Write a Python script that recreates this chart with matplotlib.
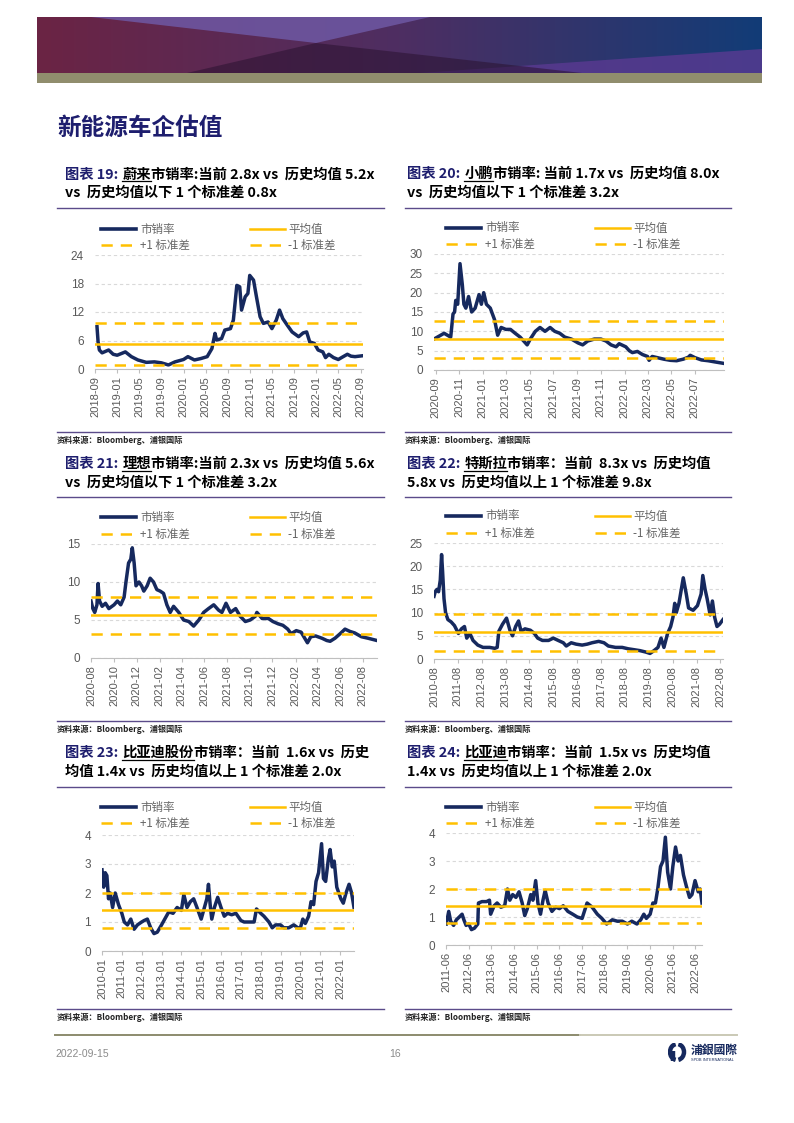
import numpy as np
import pandas as pd
import matplotlib
matplotlib.use("Agg")
import matplotlib.pyplot as plt
import matplotlib.patches as mpatches
from matplotlib.lines import Line2D
from matplotlib.colors import LinearSegmentedColormap

W, H = 794, 1123
NAVY = '#16295E'
GOLD = '#FFC000'
INK = '#1E1E6E'
GREY = '#595959'
CJK = ['Noto Sans CJK SC', 'DejaVu Sans']
LAT = ['Liberation Sans', 'DejaVu Sans']
DASH = (0, (4.5, 3.2))

plt.rcParams['font.family'] = CJK

# ---------------- data ----------------
NIO_DATES = ['2018-09-12', '2018-09-18', '2018-09-25', '2018-10-10', '2018-11-15', '2018-12-10', '2019-01-01',
             '2019-02-15', '2019-03-20', '2019-04-25', '2019-06-10', '2019-07-25', '2019-09-01', '2019-10-10',
             '2019-11-15', '2020-01-01', '2020-01-25', '2020-03-01', '2020-04-05', '2020-05-10', '2020-06-05',
             '2020-06-22', '2020-07-01', '2020-07-28', '2020-08-15', '2020-09-15', '2020-10-01', '2020-10-20',
             '2020-11-05', '2020-11-15', '2020-12-05', '2020-12-20', '2020-12-30', '2021-01-20', '2021-02-05',
             '2021-02-25', '2021-03-15', '2021-04-10', '2021-05-01', '2021-05-25', '2021-06-12', '2021-06-30',
             '2021-07-25', '2021-08-20', '2021-09-25', '2021-10-20', '2021-11-08', '2021-11-25', '2021-12-20',
             '2022-01-10', '2022-02-05', '2022-02-20', '2022-03-10', '2022-04-05', '2022-05-01', '2022-05-28',
             '2022-06-20', '2022-07-10', '2022-08-01', '2022-09-14']
NIO_PS = [8.9, 5.7, 4.0, 3.4, 4.0, 3.1, 2.9,
          3.6, 2.6, 1.9, 1.4, 1.5, 1.3, 0.85,
          1.5, 2.0, 2.6, 1.9, 2.2, 2.6, 4.3,
          7.5, 6.1, 6.4, 8.2, 8.5, 10.3, 17.6,
          17.3, 12.4, 15.2, 15.9, 19.7, 18.7, 15.2,
          11.0, 9.6, 9.9, 8.5, 10.3, 12.4, 10.6,
          9.2, 7.8, 6.8, 7.6, 7.8, 5.7, 5.4,
          4.0, 3.6, 2.4, 3.1, 2.4, 2.0, 2.6,
          3.1, 2.7, 2.6, 2.8]
NIO_STATS = (5.2, 9.6, 0.8)
NIO_TICKS = ['2018-09', '2019-01', '2019-05', '2019-09', '2020-01', '2020-05', '2020-09',
             '2021-01', '2021-05', '2021-09', '2022-01', '2022-05', '2022-09']

XP_DATES = ['2020-08-28', '2020-09-23', '2020-10-10', '2020-10-16', '2020-10-20', '2020-10-23', '2020-10-28',
            '2020-11-03', '2020-11-09', '2020-11-13', '2020-11-18', '2020-11-25', '2020-12-03', '2020-12-12',
            '2020-12-22', '2020-12-28', '2021-01-03', '2021-01-10', '2021-01-20', '2021-01-31', '2021-02-08',
            '2021-02-17', '2021-03-01', '2021-03-13', '2021-03-25', '2021-04-07', '2021-04-25', '2021-05-03',
            '2021-05-16', '2021-05-28', '2021-06-10', '2021-06-23', '2021-07-05', '2021-07-18', '2021-07-31',
            '2021-08-17', '2021-09-03', '2021-09-15', '2021-09-28', '2021-10-15', '2021-11-01', '2021-11-14',
            '2021-11-27', '2021-12-10', '2021-12-18', '2022-01-04', '2022-01-13', '2022-01-21', '2022-02-03',
            '2022-02-16', '2022-03-01', '2022-03-05', '2022-03-13', '2022-03-26', '2022-04-12', '2022-04-29',
            '2022-05-15', '2022-06-01', '2022-06-14', '2022-06-19', '2022-07-01', '2022-07-18', '2022-08-04',
            '2022-08-21', '2022-09-14']
XP_PS = [8.0, 9.5, 8.5, 14.5, 15.0, 18.0, 17.0,
         27.5, 22.0, 17.0, 16.0, 19.0, 15.0, 16.0,
         19.5, 17.0, 20.0, 17.0, 16.0, 13.0, 9.0,
         11.0, 10.5, 10.5, 9.5, 8.5, 6.5, 8.0,
         10.0, 11.0, 10.0, 11.0, 10.0, 9.5, 8.5,
         8.0, 7.0, 6.5, 7.5, 8.0, 8.0, 7.5,
         6.5, 6.0, 6.8, 6.0, 5.0, 4.5, 4.8,
         4.0, 3.5, 2.5, 3.5, 3.2, 2.8, 2.5,
         2.4, 2.8, 3.3, 3.8, 3.2, 2.6, 2.4,
         2.1, 1.7]
XP_STATS = (8.0, 12.8, 3.2)
XP_TICKS = ['2020-09', '2020-11', '2021-01', '2021-03', '2021-05', '2021-07',
            '2021-09', '2021-11', '2022-01', '2022-03', '2022-05', '2022-07']

LI_DATES = ['2020-07-31', '2020-08-05', '2020-08-10', '2020-08-16', '2020-08-19', '2020-08-23', '2020-08-30',
            '2020-09-08', '2020-09-17', '2020-10-01', '2020-10-10', '2020-10-19', '2020-10-28', '2020-11-02',
            '2020-11-09', '2020-11-15', '2020-11-19', '2020-11-24', '2020-11-29', '2020-12-07', '2020-12-14',
            '2020-12-20', '2020-12-29', '2021-01-06', '2021-01-15', '2021-01-24', '2021-02-02', '2021-02-11',
            '2021-02-20', '2021-03-01', '2021-03-10', '2021-03-24', '2021-04-06', '2021-04-20', '2021-05-03',
            '2021-05-17', '2021-05-30', '2021-06-12', '2021-06-26', '2021-07-09', '2021-07-18', '2021-07-29',
            '2021-08-10', '2021-08-24', '2021-09-05', '2021-09-19', '2021-10-02', '2021-10-16', '2021-10-20',
            '2021-11-03', '2021-11-20', '2021-12-02', '2021-12-16', '2021-12-29', '2022-01-11', '2022-01-20',
            '2022-02-03', '2022-02-16', '2022-03-05', '2022-03-14', '2022-03-27', '2022-04-13', '2022-04-26',
            '2022-05-05', '2022-05-18', '2022-06-01', '2022-06-14', '2022-06-27', '2022-07-10', '2022-07-28',
            '2022-08-15', '2022-09-08']
LI_PS = [7.5, 6.5, 6.0, 7.0, 9.8, 7.5, 6.8,
         7.2, 6.5, 7.0, 7.5, 7.0, 8.0, 10.0,
         12.5, 13.0, 14.5, 12.5, 9.5, 10.0, 9.5,
         8.8, 9.5, 10.5, 10.0, 9.0, 8.8, 8.5,
         7.0, 6.0, 6.8, 6.0, 5.0, 4.8, 4.2,
         5.0, 6.0, 6.5, 7.0, 6.3, 6.0, 7.2,
         6.0, 6.5, 5.5, 4.8, 5.0, 5.5, 6.0,
         5.2, 5.2, 4.8, 4.5, 4.3, 3.8, 3.2,
         3.6, 3.4, 2.0, 2.8, 2.9, 2.6, 2.3,
         2.2, 2.6, 3.2, 3.8, 3.5, 3.3, 2.8,
         2.6, 2.3]
LI_STATS = (5.6, 8.0, 3.2)
LI_TICKS = ['2020-08', '2020-10', '2020-12', '2021-02', '2021-04', '2021-06', '2021-08',
            '2021-10', '2021-12', '2022-02', '2022-04', '2022-06', '2022-08']

TSLA_DATES = ['2010-08-01', '2010-08-20', '2010-09-15', '2010-10-10', '2010-11-05', '2010-11-25', '2010-12-10',
              '2011-01-01', '2011-01-25', '2011-03-01', '2011-04-20', '2011-06-10', '2011-08-10', '2011-09-25',
              '2011-11-10', '2011-12-15', '2012-02-01', '2012-03-20', '2012-06-01', '2012-08-20', '2012-12-01',
              '2013-02-15', '2013-03-25', '2013-04-20', '2013-06-15', '2013-08-15', '2013-10-10', '2013-11-15',
              '2014-01-01', '2014-02-15', '2014-03-25', '2014-05-25', '2014-08-15', '2014-10-15', '2014-12-05',
              '2015-02-15', '2015-05-20', '2015-08-01', '2015-10-15', '2016-01-01', '2016-02-15', '2016-05-01',
              '2016-07-15', '2016-10-15', '2017-01-01', '2017-03-15', '2017-06-25', '2017-09-15', '2017-11-20',
              '2018-03-10', '2018-06-20', '2018-09-20', '2018-12-20', '2019-03-20', '2019-06-15', '2019-08-20',
              '2019-10-20', '2019-12-20', '2020-02-05', '2020-03-20', '2020-05-15', '2020-07-01', '2020-08-05',
              '2020-09-01', '2020-09-25', '2020-11-05', '2021-01-10', '2021-02-25', '2021-04-01', '2021-06-10',
              '2021-08-15', '2021-10-10', '2021-11-05', '2021-12-10', '2022-01-10', '2022-02-25', '2022-04-01',
              '2022-05-05', '2022-06-10', '2022-07-20', '2022-09-10']
TSLA_PS = [13.5, 14.5, 15.0, 14.5, 17.0, 22.5, 19.0,
           13.0, 10.0, 8.5, 8.0, 7.2, 5.5, 6.5,
           7.0, 4.5, 5.5, 4.0, 3.0, 2.5, 2.5,
           2.3, 2.5, 6.0, 7.5, 8.8, 6.0, 5.0,
           7.0, 8.2, 6.0, 6.5, 6.2, 5.5, 4.5,
           4.0, 4.0, 4.5, 4.0, 3.5, 2.8, 3.5,
           3.2, 3.0, 3.2, 3.5, 3.8, 3.5, 2.8,
           2.5, 2.5, 2.2, 2.0, 1.8, 1.5, 1.2,
           1.8, 2.5, 4.5, 2.5, 5.5, 7.0, 9.0,
           12.0, 10.0, 12.0, 17.5, 14.0, 11.0, 10.5,
           11.5, 14.0, 18.0, 15.0, 13.0, 9.5, 12.5,
           9.0, 7.0, 7.5, 8.5]
TSLA_STATS = (5.8, 9.8, 1.8)
TSLA_TICKS = ['2010-08', '2011-08', '2012-08', '2013-08', '2014-08', '2015-08', '2016-08',
              '2017-08', '2018-08', '2019-08', '2020-08', '2021-08', '2022-08']

BYDH_DATES = ['2010-01-01', '2010-02-01', '2010-03-01', '2010-04-01', '2010-05-01', '2010-06-01', '2010-07-15',
              '2010-09-01', '2010-11-01', '2011-01-01', '2011-02-15', '2011-04-15', '2011-06-15', '2011-08-15',
              '2011-10-15', '2012-01-01', '2012-02-15', '2012-04-15', '2012-06-15', '2012-08-15', '2012-10-15',
              '2013-01-01', '2013-03-01', '2013-05-15', '2013-08-01', '2013-10-15', '2014-01-01', '2014-02-15',
              '2014-04-15', '2014-06-15', '2014-08-15', '2014-10-15', '2015-01-01', '2015-03-01', '2015-04-15',
              '2015-05-15', '2015-06-15', '2015-07-15', '2015-09-01', '2015-11-01', '2016-01-01', '2016-03-01',
              '2016-05-01', '2016-07-15', '2016-10-01', '2017-01-01', '2017-03-01', '2017-06-01', '2017-09-01',
              '2017-10-15', '2018-01-01', '2018-03-01', '2018-06-01', '2018-08-01', '2018-10-01', '2019-01-01',
              '2019-03-01', '2019-06-01', '2019-09-01', '2019-11-15', '2020-01-01', '2020-02-15', '2020-04-01',
              '2020-06-01', '2020-07-15', '2020-09-01', '2020-10-15', '2020-12-01', '2021-01-25', '2021-03-01',
              '2021-04-10', '2021-06-01', '2021-07-01', '2021-08-10', '2021-09-15', '2021-11-01', '2022-01-15',
              '2022-03-01', '2022-04-20', '2022-06-15', '2022-08-01', '2022-09-14']
BYDH_PS = [2.8, 2.2, 2.7, 2.6, 1.8, 2.0, 1.5,
           2.0, 1.6, 1.3, 1.0, 0.9, 1.1, 0.75,
           0.9, 1.0, 1.05, 1.1, 0.8, 0.6, 0.65,
           0.9, 1.1, 1.35, 1.3, 1.5, 1.4, 1.95,
           1.5, 1.7, 1.8, 1.5, 1.1, 1.5, 1.8,
           2.3, 1.6, 1.1, 1.5, 1.85, 1.5, 1.2,
           1.3, 1.25, 1.3, 1.05, 1.0, 1.0, 1.0,
           1.45, 1.3, 1.2, 1.0, 0.8, 0.9, 0.9,
           0.8, 0.8, 0.9, 0.8, 0.8, 1.1, 0.95,
           1.2, 1.7, 1.6, 2.4, 2.7, 3.7, 2.5,
           2.4, 3.2, 3.5, 2.9, 3.1, 2.2, 1.8,
           1.65, 2.0, 2.3, 2.0, 1.5]
BYDH_STATS = (1.4, 2.0, 0.8)
BYDH_TICKS = ['2010-01', '2011-01', '2012-01', '2013-01', '2014-01', '2015-01', '2016-01',
              '2017-01', '2018-01', '2019-01', '2020-01', '2021-01', '2022-01']

BYDA_DATES = ['2011-06-05', '2011-07-15', '2011-08-15', '2011-10-01', '2011-11-15', '2012-01-01', '2012-02-15',
              '2012-03-15', '2012-04-20', '2012-06-01', '2012-07-15', '2012-09-01', '2012-10-25', '2012-11-05',
              '2013-01-01', '2013-03-15', '2013-05-01', '2013-05-20', '2013-07-15', '2013-09-01', '2013-11-01',
              '2014-01-01', '2014-02-15', '2014-03-25', '2014-05-10', '2014-07-01', '2014-08-20', '2014-10-10',
              '2014-11-20', '2015-01-01', '2015-02-25', '2015-04-01', '2015-05-15', '2015-06-20', '2015-08-01',
              '2015-09-10', '2015-10-15', '2015-12-01', '2016-02-01', '2016-04-01', '2016-06-01', '2016-08-01',
              '2016-10-15', '2017-01-01', '2017-03-15', '2017-06-01', '2017-08-20', '2017-11-10', '2018-02-01',
              '2018-04-15', '2018-07-01', '2018-10-01', '2018-12-20', '2019-03-10', '2019-06-01', '2019-08-10',
              '2019-11-01', '2020-01-01', '2020-02-20', '2020-04-01', '2020-06-01', '2020-07-15', '2020-08-25',
              '2020-10-01', '2020-11-15', '2020-12-25', '2021-02-01', '2021-03-10', '2021-04-25', '2021-06-01',
              '2021-07-15', '2021-08-25', '2021-10-01', '2021-11-20', '2022-01-05', '2022-02-25', '2022-04-05',
              '2022-05-25', '2022-07-15', '2022-08-15', '2022-09-14']
BYDA_PS = [0.75, 1.2, 0.85, 0.7, 0.9, 1.0, 1.1,
           0.9, 0.7, 0.75, 0.55, 0.6, 0.75, 1.5,
           1.55, 1.55, 1.6, 1.1, 1.4, 1.5, 1.35,
           1.4, 2.0, 1.6, 1.8, 1.7, 1.9, 1.5,
           1.05, 1.3, 1.8, 1.6, 2.3, 1.5, 1.1,
           1.6, 1.95, 1.5, 1.2, 1.35, 1.3, 1.4,
           1.2, 1.1, 1.0, 0.95, 1.5, 1.35, 1.1,
           0.95, 0.75, 0.9, 0.85, 0.85, 0.75, 0.85,
           0.75, 0.9, 1.1, 0.95, 1.1, 1.5, 1.5,
           2.0, 2.8, 3.0, 3.85, 2.6, 2.0, 2.8,
           3.5, 3.0, 3.2, 2.5, 2.1, 1.7, 1.8,
           2.3, 1.9, 2.0, 1.5]
BYDA_STATS = (1.4, 2.0, 0.8)
BYDA_TICKS = ['2011-06', '2012-06', '2013-06', '2014-06', '2015-06', '2016-06', '2017-06',
              '2018-06', '2019-06', '2020-06', '2021-06', '2022-06']

# ---------------- figure ----------------
fig = plt.figure(figsize=(W / 100, H / 100), dpi=100)
renderer = fig.canvas.get_renderer()


def fx(x):
    return x / W


def fy(y):
    return 1 - y / H


def px_axes(x0, y0, x1, y1):
    return fig.add_axes((x0 / W, 1 - y1 / H, (x1 - x0) / W, (y1 - y0) / H))


def hline(x0, x1, y, color, lw):
    fig.add_artist(Line2D([fx(x0), fx(x1)], [fy(y), fy(y)], color=color, lw=lw))


def rich_line(x, y, pieces, size=10.3):
    # pieces: (text, color, underline, gap in px before the piece)
    for text, color, underline, gap in pieces:
        x += gap
        t = fig.text(fx(x), fy(y), text, fontsize=size, fontweight='bold', color=color,
                     va='center', ha='left', family=CJK)
        bb = t.get_window_extent(renderer)
        if underline:
            fig.add_artist(Line2D([bb.x0 / W, bb.x1 / W], [(bb.y0 + 0.5) / H] * 2, color='black', lw=0.9))
        x = bb.x1


def legend_block(x0, y1, y2):
    fig.add_artist(Line2D([fx(x0 + 46), fx(x0 + 81)], [fy(y1)] * 2, color=NAVY, lw=2.6))
    fig.add_artist(Line2D([fx(x0 + 195), fx(x0 + 230)], [fy(y1)] * 2, color=GOLD, lw=1.8))
    fig.add_artist(Line2D([fx(x0 + 46), fx(x0 + 81)], [fy(y2)] * 2, color=GOLD, lw=1.8, ls=DASH))
    fig.add_artist(Line2D([fx(x0 + 195), fx(x0 + 230)], [fy(y2)] * 2, color=GOLD, lw=1.8, ls=DASH))
    for dx, yy, s in ((85, y1, '市销率'), (233, y1, '平均值'), (85, y2, '+1 标准差'), (233, y2, '-1 标准差')):
        fig.text(fx(x0 + dx), fy(yy), s, fontsize=8.3, color='#666666', va='center', ha='left', family=CJK)


def panel(rect, dates, values, stats, ymax, ystep, ticks):
    ax = px_axes(*rect)
    d = pd.to_datetime(dates)
    tk = pd.to_datetime(ticks)
    ax.plot(d, values, color=NAVY, lw=2.5, solid_joinstyle='round', zorder=2)
    mean, up, down = stats
    ax.axhline(mean, color=GOLD, lw=1.8, zorder=3)
    ax.axhline(up, color=GOLD, lw=1.8, ls=DASH, zorder=3)
    ax.axhline(down, color=GOLD, lw=1.8, ls=DASH, zorder=3)
    ax.set_ylim(0, ymax)
    ax.set_yticks(np.arange(0, ymax + ystep / 2, ystep))
    ax.set_xlim(min(d[0], tk[0]), d[-1])
    ax.set_xticks(tk)
    ax.set_xticklabels(ticks, rotation=90, family=LAT, fontsize=8, color=GREY)
    for lab in ax.get_yticklabels():
        lab.set_family(LAT)
    ax.tick_params(axis='y', length=0, pad=8, labelsize=8.5, labelcolor=GREY)
    ax.tick_params(axis='x', length=3, width=0.8, color='#BFBFBF', pad=2)
    ax.grid(axis='y', color='#D9D9D9', lw=0.8, ls=(0, (3, 2.5)))
    ax.set_axisbelow(True)
    for s in ('left', 'right', 'top'):
        ax.spines[s].set_visible(False)
    ax.spines['bottom'].set_color('#BFBFBF')
    ax.spines['bottom'].set_linewidth(0.8)
    ax.set_facecolor('none')
    return ax


# ---------------- banner ----------------
bx = px_axes(37, 17, 762, 83)
bx.set_xlim(37, 762)
bx.set_ylim(83, 17)
bx.axis('off')
grad = LinearSegmentedColormap.from_list('band', ['#6B2444', '#4E2E62', '#123C77'])
bx.imshow(np.linspace(0, 1, 256)[None, :], cmap=grad, aspect='auto', extent=(37, 762, 73, 17), zorder=0)
bx.add_patch(mpatches.Polygon([(91, 17), (430, 17), (316, 43)], closed=True, fc='#6E58A4', ec='none', alpha=0.85, zorder=1))
bx.add_patch(mpatches.Polygon([(420, 73), (762, 49), (762, 73)], closed=True, fc='#5A3A92', ec='none', alpha=0.8, zorder=1))
bx.add_patch(mpatches.Polygon([(187, 73), (582, 73), (316, 43)], closed=True, fc='#2A1230', ec='none', alpha=0.55, zorder=2))
bx.add_patch(mpatches.Rectangle((37, 73), 725, 10, fc='#908D6D', ec='none', zorder=3))

fig.text(fx(57), fy(128), '新能源车企估值', fontsize=17, fontweight='bold', color=INK,
         va='center', ha='left', family=CJK)

# ---------------- panels ----------------
COLS = (55, 400)
LEFT_X, RIGHT_X = (57, 384), (405, 731)

blocks = [
    dict(col=0, ty=(175, 193), ly=(229, 245), sep=(208, 432), src=440,
         l1=[('图表 19:', INK, False, 0), ('蔚来', 'black', True, 4), ('市销率:当前 2.8x vs  历史均值 5.2x', 'black', False, 0)],
         l2='vs  历史均值以下 1 个标准差 0.8x',
         rect=(95, 255, 363, 369), data=(NIO_DATES, NIO_PS, NIO_STATS, 24, 6, NIO_TICKS)),
    dict(col=1, ty=(174, 193), ly=(228, 244), sep=(208, 432), src=440,
         l1=[('图表 20:', INK, False, 0), ('小鹏', 'black', True, 4), ('市销率: 当前 1.7x vs  历史均值 8.0x', 'black', False, 0)],
         l2='vs  历史均值以下 1 个标准差 3.2x',
         rect=(434, 254, 724, 370), data=(XP_DATES, XP_PS, XP_STATS, 30, 5, XP_TICKS)),
    dict(col=0, ty=(464, 483), ly=(517, 534), sep=(497, 721), src=729,
         l1=[('图表 21:', INK, False, 0), ('理想', 'black', True, 4), ('市销率:当前 2.3x vs  历史均值 5.6x', 'black', False, 0)],
         l2='vs  历史均值以下 1 个标准差 3.2x',
         rect=(91, 544, 377, 658), data=(LI_DATES, LI_PS, LI_STATS, 15, 5, LI_TICKS)),
    dict(col=1, ty=(464, 483), ly=(516, 533), sep=(497, 721), src=729,
         l1=[('图表 22:', INK, False, 0), ('特斯拉', 'black', True, 4), ('市销率：当前  8.3x vs  历史均值', 'black', False, 0)],
         l2='5.8x vs  历史均值以上 1 个标准差 9.8x',
         rect=(434, 543, 723, 659), data=(TSLA_DATES, TSLA_PS, TSLA_STATS, 25, 5, TSLA_TICKS)),
    dict(col=0, ty=(753, 772), ly=(807, 823), sep=(787, 1009), src=1017,
         l1=[('图表 23:', INK, False, 0), ('比亚迪股份', 'black', True, 4), ('市销率：当前  1.6x vs  历史', 'black', False, 0)],
         l2='均值 1.4x vs  历史均值以上 1 个标准差 2.0x',
         rect=(102, 835, 354, 951), data=(BYDH_DATES, BYDH_PS, BYDH_STATS, 4, 1, BYDH_TICKS)),
    dict(col=1, ty=(753, 772), ly=(807, 823), sep=(787, 1009), src=1017,
         l1=[('图表 24:', INK, False, 0), ('比亚迪', 'black', True, 4), ('市销率：当前  1.5x vs  历史均值', 'black', False, 0)],
         l2='1.4x vs  历史均值以上 1 个标准差 2.0x',
         rect=(446, 833, 702, 945), data=(BYDA_DATES, BYDA_PS, BYDA_STATS, 4, 1, BYDA_TICKS)),
]

for b in blocks:
    x0 = COLS[b['col']]
    xs = LEFT_X if b['col'] == 0 else RIGHT_X
    tx = 65 if b['col'] == 0 else 407
    rich_line(tx, b['ty'][0], b['l1'])
    rich_line(tx, b['ty'][1], [(b['l2'], 'black', False, 0)])
    hline(xs[0], xs[1], b['sep'][0], '#5B4B8A', 1.0)
    hline(xs[0], xs[1], b['sep'][1], '#5B4B8A', 1.0)
    legend_block(x0, *b['ly'])
    fig.text(fx(xs[0]), fy(b['src']), '资料来源：Bloomberg、浦银国际', fontsize=5.9, fontweight='bold',
             color='#222222', va='center', ha='left', family=CJK)
    panel(b['rect'], *b['data'])

# ---------------- footer ----------------
hline(55, 580, 1035, '#8C8B6E', 1.4)
hline(580, 737, 1035, '#CAC9B6', 1.4)
fig.text(fx(55), fy(1054), '2022-09-15', fontsize=7.5, color='#8A8A8A', va='center', ha='left', family=LAT)
fig.text(fx(395), fy(1054), '16', fontsize=7.5, color='#8A8A8A', va='center', ha='center', family=LAT)

lx = px_axes(668, 1043, 688, 1063)
lx.set_xlim(0, 20)
lx.set_ylim(0, 20)
lx.axis('off')
lx.add_patch(mpatches.Arc((9, 11), 14, 16, theta1=100, theta2=260, lw=3.2, color=NAVY))
lx.add_patch(mpatches.Arc((9, 11), 14, 16, theta1=-80, theta2=80, lw=3.2, color=NAVY))
lx.plot([5, 5], [2, 12], color=NAVY, lw=3.2, solid_capstyle='butt')
fig.text(fx(691), fy(1050), '浦銀國際', fontsize=8.5, fontweight='bold', color=NAVY,
         va='center', ha='left', family=['Noto Sans CJK TC', 'DejaVu Sans'])
fig.text(fx(691), fy(1060), 'SPDB INTERNATIONAL', fontsize=2.8, color=NAVY, va='center', ha='left', family=LAT)

fig.savefig('out.png', dpi=100)
